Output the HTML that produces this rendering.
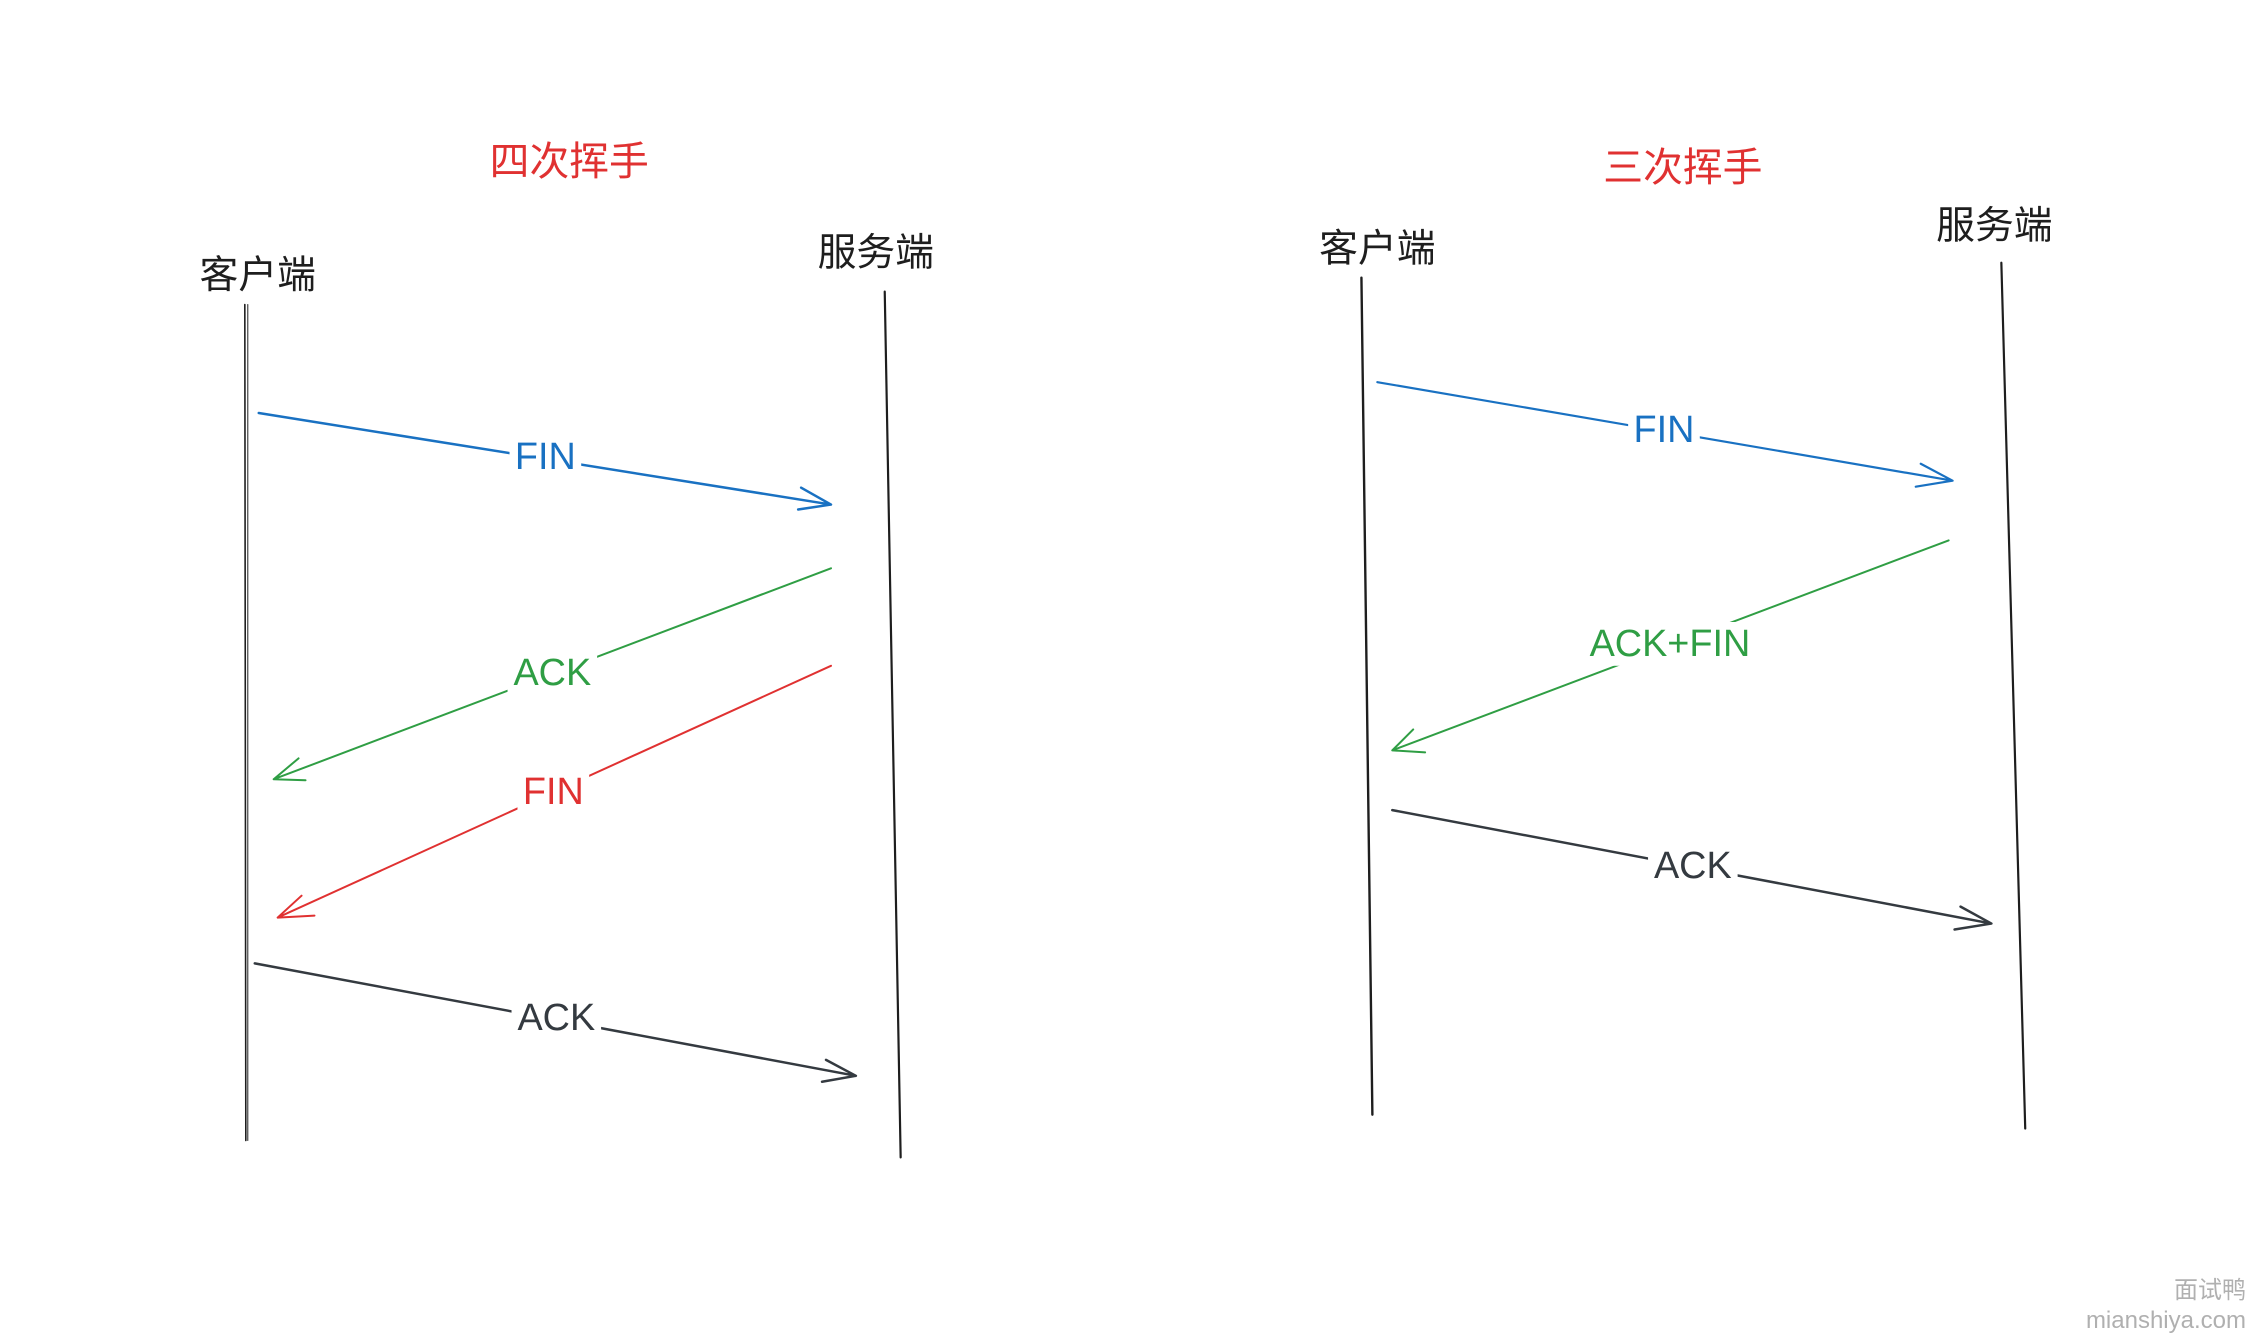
<!DOCTYPE html>
<html><head><meta charset="utf-8"><style>
html,body{margin:0;padding:0;background:#fff;width:2254px;height:1338px;overflow:hidden}
svg{display:block}
text{font-family:"Liberation Sans","Noto Sans CJK SC",sans-serif}
</style></head><body>
<svg width="2254" height="1338" viewBox="0 0 2254 1338" xmlns="http://www.w3.org/2000/svg">
<g transform="scale(0.9952)">
<g fill="none" stroke-linecap="round" stroke-linejoin="round">
<path d="M246 306 L247 1146" stroke="#1e1e1e" stroke-width="1.6"/>
<path d="M249 306 L249 1146" stroke="#1e1e1e" stroke-width="1"/>
<path d="M889 293 L905 1163" stroke="#1e1e1e" stroke-width="2.2"/>
<path d="M260 415 L835 507 M805 490 L835 507 L802 512" stroke="#1971c2" stroke-width="2.5"/>
<path d="M835 571 L275 783 M300 762 L275 783 L307 784" stroke="#2f9e44" stroke-width="2"/>
<path d="M835 669 L279 922 M303 900 L279 922 L316 920" stroke="#e03131" stroke-width="2"/>
<path d="M256 968 L860 1081 M830 1065 L860 1081 L826 1087" stroke="#343a40" stroke-width="2.5"/>
<path d="M1368 279 L1379 1120" stroke="#1e1e1e" stroke-width="2.4"/>
<path d="M2011 264 L2035 1134" stroke="#1e1e1e" stroke-width="2.2"/>
<path d="M1384 384 L1962 483 M1930 466 L1962 483 L1925 489" stroke="#1971c2" stroke-width="2.2"/>
<path d="M1958 543 L1399 754 M1420 733 L1399 754 L1432 756" stroke="#2f9e44" stroke-width="2"/>
<path d="M1399 814 L2001 928 M1970 911 L2001 928 L1964 934" stroke="#343a40" stroke-width="2.5"/>
</g>
<g fill="#fff">
<rect x="512" y="437" width="72" height="44"/>
<rect x="510" y="654" width="90" height="44"/>
<rect x="520" y="774" width="72" height="44"/>
<rect x="514" y="1001" width="90" height="44"/>
<rect x="1636" y="410" width="72" height="44"/>
<rect x="1596" y="625" width="164" height="44"/>
<rect x="1656" y="848" width="90" height="44"/>
</g>
<g text-anchor="middle" dominant-baseline="central">
<text x="572" y="163" font-size="40" fill="#e03131">四次挥手</text>
<text x="259" y="277" font-size="39" fill="#1e1e1e">客户端</text>
<text x="880" y="254" font-size="39" fill="#1e1e1e">服务端</text>
<text x="548" y="459" font-size="38" fill="#1971c2">FIN</text>
<text x="555" y="676" font-size="38" fill="#2f9e44">ACK</text>
<text x="556" y="796" font-size="38" fill="#e03131">FIN</text>
<text x="559" y="1023" font-size="38" fill="#343a40">ACK</text>
<text x="1691" y="169" font-size="40" fill="#e03131">三次挥手</text>
<text x="1384" y="250" font-size="39" fill="#1e1e1e">客户端</text>
<text x="2004" y="227" font-size="39" fill="#1e1e1e">服务端</text>
<text x="1672" y="432" font-size="38" fill="#1971c2">FIN</text>
<text x="1678" y="647" font-size="38" fill="#2f9e44">ACK+FIN</text>
<text x="1701" y="870" font-size="38" fill="#343a40">ACK</text>
</g>
</g>
<g text-anchor="end" fill="#b0b0b0">
<text x="2246" y="1298" font-size="24">面试鸭</text>
<text x="2246" y="1328" font-size="24">mianshiya.com</text>
</g>
</svg>
</body></html>
